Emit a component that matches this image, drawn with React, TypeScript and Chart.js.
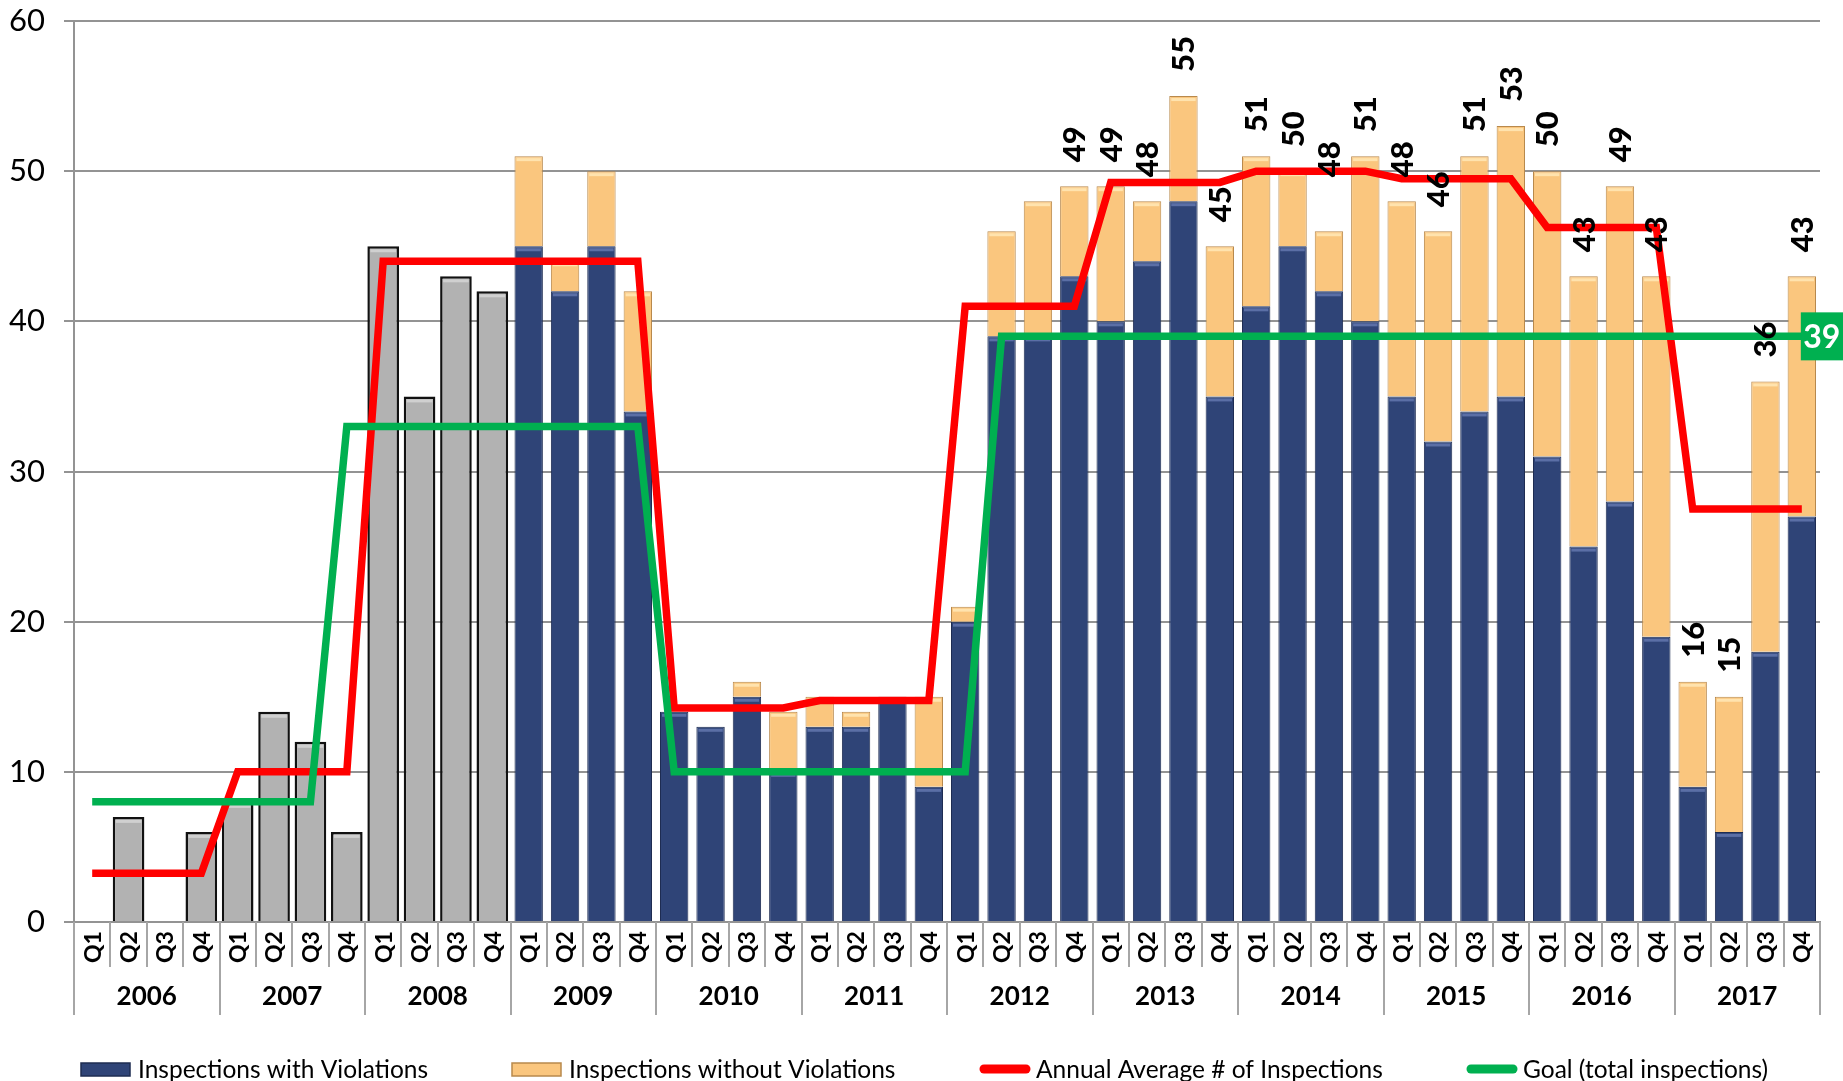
import React, { useEffect, useRef } from "react";
import { Chart, registerables } from "chart.js";

Chart.register(...registerables);

const years = ["2006", "2007", "2008", "2009", "2010", "2011", "2012", "2013", "2014", "2015", "2016", "2017"];
const quarterNames = ["Q1", "Q2", "Q3", "Q4"];
const categories: string[] = years.flatMap((y) => quarterNames.map((q) => `${y} ${q}`));

// 2006-2008 totals (no violation split available)
const grayTotals: (number | null)[] = [
  null, 7, null, 6,
  8, 14, 12, 6,
  45, 35, 43, 42,
  ...Array(36).fill(null),
];

// 2009-2017
const withViolations: (number | null)[] = [
  ...Array(12).fill(null),
  45, 42, 45, 34,
  14, 13, 15, 10,
  13, 13, 15, 9,
  20, 39, 39, 43,
  40, 44, 48, 35,
  41, 45, 42, 40,
  35, 32, 34, 35,
  31, 25, 28, 19,
  9, 6, 18, 27,
];

const withoutViolations: (number | null)[] = [
  ...Array(12).fill(null),
  6, 2, 5, 8,
  null, null, 1, 4,
  2, 1, null, 6,
  1, 7, 9, 6,
  9, 4, 7, 10,
  10, 5, 4, 11,
  13, 14, 17, 18,
  19, 18, 21, 24,
  7, 9, 18, 16,
];

const annualAverage: number[] = [
  3.25, 3.25, 3.25, 3.25,
  10, 10, 10, 10,
  44, 44, 44, 44,
  44, 44, 44, 44,
  14.25, 14.25, 14.25, 14.25,
  14.75, 14.75, 14.75, 14.75,
  41, 41, 41, 41,
  49.25, 49.25, 49.25, 49.25,
  50, 50, 50, 50,
  49.5, 49.5, 49.5, 49.5,
  46.25, 46.25, 46.25, 46.25,
  27.5, 27.5, 27.5, 27.5,
];

const goal: number[] = [
  8, 8, 8, 8,
  8, 8, 8, 33,
  33, 33, 33, 33,
  33, 33, 33, 33,
  10, 10, 10, 10,
  10, 10, 10, 10,
  10, 39, 39, 39,
  39, 39, 39, 39,
  39, 39, 39, 39,
  39, 39, 39, 39,
  39, 39, 39, 39,
  39, 39, 39, 39,
];

const totalLabels: (number | null)[] = [
  ...Array(27).fill(null),
  49,
  49, 48, 55, 45,
  51, 50, 48, 51,
  48, 46, 51, 53,
  50, 43, 49, 43,
  16, 15, 36, 43,
];

const yTicks = [0, 10, 20, 30, 40, 50, 60];

const BLUE = "#2F4477";
const BLUE_BORDER = "#1E2C52";
const BLUE_HI = "#5B6FA6";
const ORANGE = "#FAC67E";
const ORANGE_BORDER = "#B8894C";
const ORANGE_HI = "#FFE3AE";
const GRAY = "#B2B2B2";
const GRAY_HI = "#D0D0D0";
const RED = "#FF0000";
const GREEN = "#00B050";
const AXIS = "#939393";
const FONT = "Lato, 'Open Sans', sans-serif";

const legendItems = [
  { label: "Inspections with Violations", kind: "box", color: BLUE, border: BLUE_BORDER, x: 81 },
  { label: "Inspections without Violations", kind: "box", color: ORANGE, border: ORANGE_BORDER, x: 512 },
  { label: "Annual Average # of Inspections", kind: "line", color: RED, border: RED, x: 979 },
  { label: "Goal (total inspections)", kind: "line", color: GREEN, border: GREEN, x: 1466 },
];

const highlightPlugin = {
  id: "barHighlight",
  afterDatasetDraw(chart: any, args: any) {
    const ds = chart.data.datasets[args.index];
    if (ds.type === "line") return;
    const hi = ds.label === "Inspections with Violations" ? BLUE_HI : ds.label === "Inspections without Violations" ? ORANGE_HI : GRAY_HI;
    const ctx = chart.ctx;
    const meta = args.meta;
    ctx.save();
    meta.data.forEach((bar: any, i: number) => {
      const v = ds.data[i];
      if (v === null || v === undefined) return;
      const { x, y, width } = bar.getProps(["x", "y", "width"], true);
      ctx.fillStyle = hi;
      const inset = ds.label.startsWith("Inspections (") ? 2 : 1;
      ctx.fillRect(x - width / 2 + inset + 1, y + inset + 1, width - 2 * inset - 2, 3);
    });
    ctx.restore();
  },
};

const overlayPlugin = {
  id: "overlay",
  afterDatasetsDraw(chart: any) {
    const ctx = chart.ctx;
    const xs = chart.scales.x;
    const ys = chart.scales.y;
    // rotated total labels
    ctx.save();
    ctx.fillStyle = "#000";
    ctx.font = `900 31px ${FONT}`;
    ctx.textAlign = "left";
    ctx.textBaseline = "middle";
    totalLabels.forEach((v, i) => {
      if (v === null) return;
      const x = xs.getPixelForValue(i);
      const y = ys.getPixelForValue(v) - 24;
      ctx.save();
      ctx.translate(x, y);
      ctx.rotate(-Math.PI / 2);
      ctx.fillText(String(v), 0, 1);
      ctx.restore();
    });
    ctx.restore();

    // goal value box at the end of the green line
    const last = goal.length - 1;
    const gx = xs.getPixelForValue(last) - 1;
    const gy = ys.getPixelForValue(goal[last]);
    ctx.save();
    ctx.fillStyle = GREEN;
    ctx.fillRect(gx, gy - 24, 48, 48);
    ctx.fillStyle = "#fff";
    ctx.font = `bold 32px ${FONT}`;
    ctx.textAlign = "center";
    ctx.textBaseline = "middle";
    ctx.fillText(String(goal[last]), gx + 21, gy + 1);
    ctx.restore();
  },
  afterDraw(chart: any) {
    const ctx = chart.ctx;
    const xs = chart.scales.x;
    const area = chart.chartArea;
    const n = categories.length;
    const step = (area.right - area.left) / n;
    const base = area.bottom;
    ctx.save();
    // separators
    ctx.strokeStyle = "#A6A6A6";
    ctx.lineWidth = 2;
    for (let i = 0; i <= n; i++) {
      const x = Math.round(area.left + i * step);
      const isYear = i % 4 === 0;
      ctx.beginPath();
      ctx.moveTo(x, base);
      ctx.lineTo(x, isYear ? base + 93 : base + 45);
      ctx.stroke();
    }
    // quarter labels
    ctx.fillStyle = "#000";
    ctx.font = `bold 23px ${FONT}`;
    ctx.textAlign = "center";
    ctx.textBaseline = "middle";
    categories.forEach((_, i) => {
      const x = xs.getPixelForValue(i);
      ctx.save();
      ctx.translate(x + 1, base + 25);
      ctx.rotate(-Math.PI / 2);
      ctx.fillText(quarterNames[i % 4], 0, 0);
      ctx.restore();
    });
    // year labels
    ctx.font = `bold 26px ${FONT}`;
    years.forEach((yr, k) => {
      const x = area.left + (k * 4 + 2) * step;
      ctx.fillText(yr, x, base + 75);
    });
    // legend
    const ly = 1069;
    ctx.font = `24.5px ${FONT}`;
    ctx.textAlign = "left";
    legendItems.forEach((it) => {
      if (it.kind === "box") {
        ctx.fillStyle = it.color;
        ctx.fillRect(it.x, ly - 6, 49, 13);
        ctx.strokeStyle = it.border;
        ctx.lineWidth = 1.5;
        ctx.strokeRect(it.x, ly - 6, 49, 13);
      } else {
        ctx.strokeStyle = it.color;
        ctx.lineWidth = 9;
        ctx.lineCap = "round";
        ctx.beginPath();
        ctx.moveTo(it.x + 5, ly);
        ctx.lineTo(it.x + 47, ly);
        ctx.stroke();
      }
      ctx.fillStyle = "#000";
      ctx.fillText(it.label, it.x + 57, ly + 1);
    });
    ctx.restore();
  },
};

export default function App() {
  const canvasRef = useRef<HTMLCanvasElement | null>(null);

  useEffect(() => {
    if (!canvasRef.current) return;
    const chart = new Chart(canvasRef.current, {
      type: "bar",
      data: {
        labels: categories,
        datasets: [
          {
            type: "line",
            label: "Goal (total inspections)",
            data: goal,
            borderColor: GREEN,
            backgroundColor: GREEN,
            borderWidth: 7.5,
            pointRadius: 0,
            tension: 0,
            stack: "goal",
            order: 0,
            borderJoinStyle: "miter",
          },
          {
            type: "line",
            label: "Annual Average # of Inspections",
            data: annualAverage,
            borderColor: RED,
            backgroundColor: RED,
            borderWidth: 7.5,
            pointRadius: 0,
            tension: 0,
            stack: "avg",
            order: 0,
            borderJoinStyle: "miter",
          },
          {
            label: "Inspections (2006-2008)",
            data: grayTotals,
            backgroundColor: GRAY,
            borderColor: "#111111",
            borderWidth: 2.5,
            barPercentage: 0.87,
            categoryPercentage: 1,
            stack: "bars",
            order: 1,
          },
          {
            label: "Inspections with Violations",
            data: withViolations,
            backgroundColor: BLUE,
            borderColor: BLUE_BORDER,
            borderWidth: 1,
            barPercentage: 0.78,
            categoryPercentage: 1,
            stack: "bars",
            order: 1,
          },
          {
            label: "Inspections without Violations",
            data: withoutViolations,
            backgroundColor: ORANGE,
            borderColor: ORANGE_BORDER,
            borderWidth: 1,
            barPercentage: 0.78,
            categoryPercentage: 1,
            stack: "bars",
            order: 1,
          },
        ],
      } as any,
      options: {
        animation: false,
        responsive: true,
        maintainAspectRatio: false,
        layout: { padding: { top: 21, right: 23, left: 0, bottom: 0 } },
        plugins: {
          legend: { display: false },
          tooltip: { enabled: false },
        },
        scales: {
          x: {
            stacked: true,
            offset: true,
            grid: { display: false },
            ticks: { display: false },
            border: { display: true, color: AXIS, width: 2 },
            afterFit: (s: any) => {
              s.height = 159;
              s.paddingLeft = 0;
              s.paddingRight = 0;
            },
          },
          y: {
            stacked: true,
            min: 0,
            max: 60,
            afterBuildTicks: (s: any) => {
              s.ticks = yTicks.map((v) => ({ value: v }));
            },
            ticks: {
              color: "#000",
              padding: 19,
              font: { family: FONT, size: 31 },
            },
            grid: { color: AXIS, lineWidth: 2, tickLength: 10 },
            border: { display: true, color: AXIS, width: 2 },
            afterFit: (s: any) => {
              s.width = 74;
              s.paddingTop = 0;
              s.paddingBottom = 0;
            },
          },
        },
      } as any,
      plugins: [highlightPlugin, overlayPlugin],
    });
    return () => chart.destroy();
  }, []);

  return (
    <div style={{ position: "fixed", left: 0, top: 0, width: 1843, height: 1081, background: "#fff" }}>
      <canvas ref={canvasRef} />
    </div>
  );
}
